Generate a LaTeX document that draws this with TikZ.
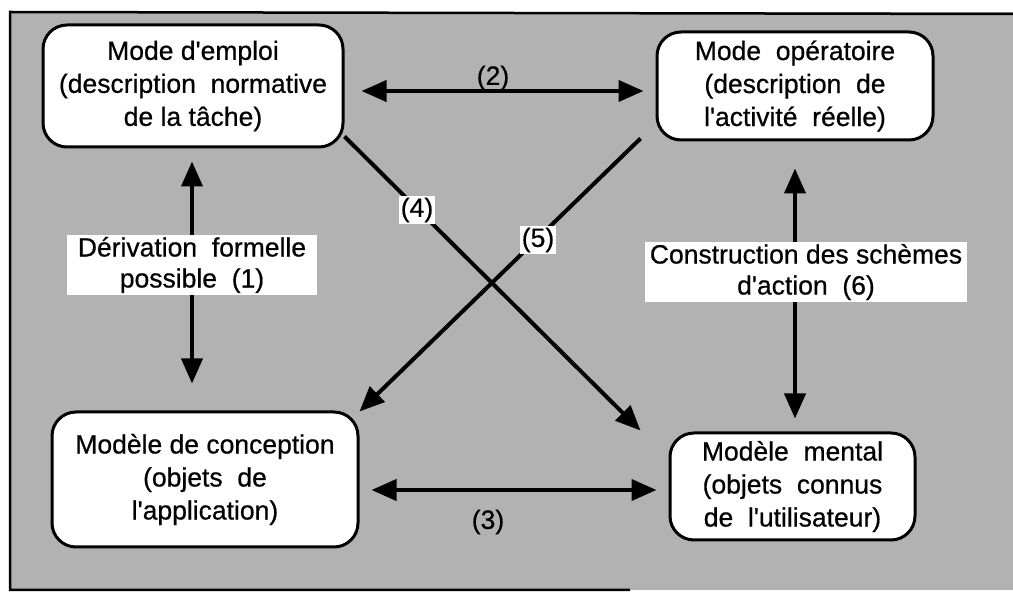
\documentclass[tikz,border=0pt]{standalone}
\usepackage{fontspec}
\setmainfont{Liberation Sans}[Ligatures=TeXOff, FakeBold=0.6]
\usetikzlibrary{arrows.meta,calc}
\begin{document}
\begin{tikzpicture}[x=1pt,y=-1pt,
  box/.style={draw, line width=3pt, rounded corners=24pt, fill=white, align=center,
    font=\fontsize{26.5}{33}\selectfont, inner sep=0pt},
  lab/.style={fill=white, align=center, font=\fontsize{26.5}{31}\selectfont, inner sep=2pt},
  plainlab/.style={font=\fontsize{26.5}{30}\selectfont, inner sep=1pt},
  conn/.style={line width=4pt, {Triangle[length=25pt,width=21pt]}-{Triangle[length=25pt,width=21pt]}},
  conn1/.style={line width=4pt, -{Triangle[length=25pt,width=21pt]}}]
\useasboundingbox (0,0) rectangle (1013,593);
\fill[white] (0,0) rectangle (1013,593);
\fill[black!30] (10,12) rectangle (1013,590);
\draw[line width=2.5pt] (1013,14) -- (10,12) -- (10,590) -- (630,590);

\node[box, minimum width=300pt, minimum height=122pt] (b1) at (193,86)
  {Mode d'emploi\\(description\ \ normative\\de la tâche)};
\node[box, minimum width=276pt, minimum height=108pt] (b2) at (795,86)
  {Mode\ \ opératoire\\(description\ \ de\\l'activité\ \ réelle)};
\node[box, minimum width=306pt, minimum height=135pt] (b3) at (205,479.5)
  {Modèle de conception\\(objets\ \ de\\l'application)};
\node[box, minimum width=245pt, minimum height=107pt] (b4) at (792.5,486.5)
  {Modèle\ \ mental\\(objets\ \ connus\\de\ \ l'utilisateur)};

\draw[conn] ($(b1.east)+(17,5)$) -- ($(b2.west)+(-12,5)$);
\draw[conn] ($(b3.east)+(12,10.5)$) -- ($(b4.west)+(-12,3.5)$);
\draw[conn] ($(b1.south)+(-1,13)$) -- ($(b3.north)+(-13,-27)$);
\draw[conn] ($(b2.south)+(0,27)$) -- ($(b4.north)+(2.5,-13)$);
\draw[conn1] ($(b1.south east)+(0,-12)$) -- ($(b4.north west)+(-28,-1)$);
\draw[conn1] ($(b2.south west)+(-15,-3)$) -- ($(b3.north east)+(0,1)$);

\node[lab, minimum width=250pt, minimum height=60pt] (l1) at (192,265)
  {Dérivation\ \ formelle\\possible\ \ (1)};
\node[lab, minimum width=322pt, minimum height=60pt] (l6) at (806,272)
  {Construction des schèmes\\d'action\ \ (6)};
\node[plainlab] (l2) at (493,78) {(2)};
\node[plainlab] (l3) at (488,522) {(3)};
\node[lab] (l4) at (417,210) {(4)};
\node[lab] (l5) at (538,240) {(5)};
\end{tikzpicture}
\end{document}
